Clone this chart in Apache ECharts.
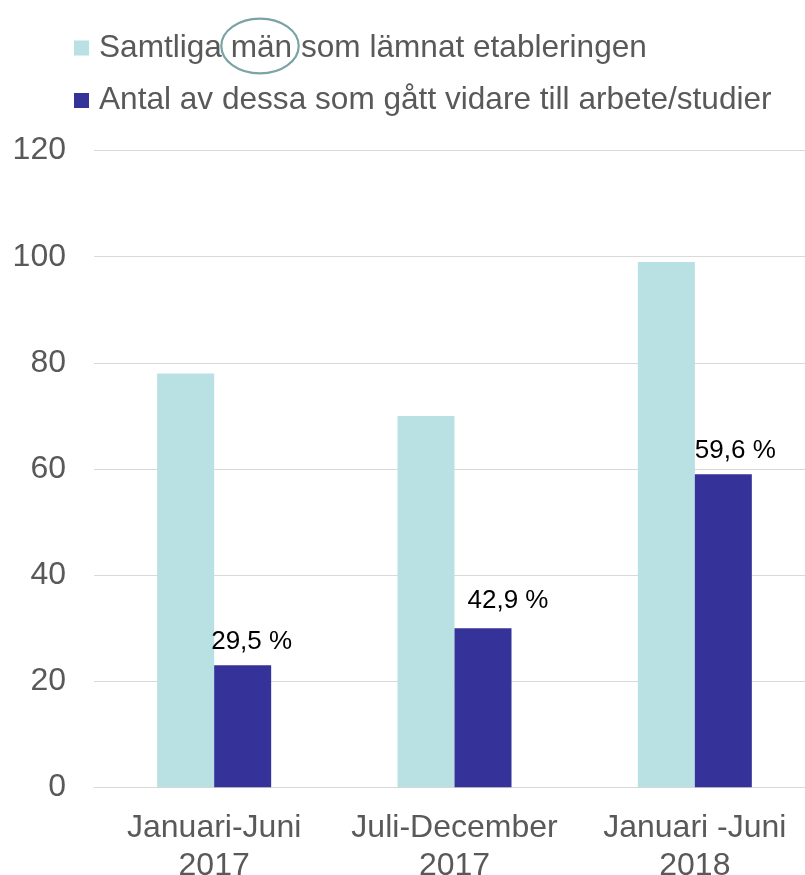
<!DOCTYPE html>
<html>
<head>
<meta charset="utf-8">
<script src="https://cdn.jsdelivr.net/npm/echarts@6/dist/echarts.min.js"></script>
<style>
  html, body { margin: 0; padding: 0; background: #fff; }
  #chart { width: 805px; height: 875px; }
</style>
</head>
<body>
<div id="chart"></div>
<script>
// data
const categories = ['Januari-Juni\n2017', 'Juli-December\n2017', 'Januari -Juni\n2018'];
const seriesNames = ['Samtliga män som lämnat etableringen', 'Antal av dessa som gått vidare till arbete/studier'];
const allMen = [78, 70, 99];
const movedOn = [23, 30, 59];
const shareLabels = ['29,5 %', '42,9 %', '59,6 %'];
const yTicks = [0, 20, 40, 60, 80, 100, 120];

// label nudges (the labels in the original were placed by hand)
const labelOffsets = [[9, 0], [25, -4], [12, 0]];

const font = '"Liberation Sans", Arial, sans-serif';
const grey = '#595959';

const chart = echarts.init(document.getElementById('chart'));
chart.setOption({
    animation: false,
    textStyle: { fontFamily: font },
    legend: {
        orient: 'vertical',
        left: 74,
        top: 28,
        padding: 0,
        itemWidth: 15,
        itemHeight: 15,
        itemGap: 12.5,
        icon: 'rect',
        textStyle: { fontSize: 31.6, color: grey, lineHeight: 40, padding: [0, 0, 0, 5] },
        data: seriesNames
    },
    grid: { left: 94, right: -10, top: 150.6, bottom: 87.7, outerBoundsMode: 'none', containLabel: false },
    xAxis: {
        type: 'category',
        data: categories,
        axisLine: { lineStyle: { color: '#D9D9D9', width: 1 } },
        axisTick: { show: false },
        axisLabel: { fontSize: 32, color: grey, lineHeight: 38, margin: 22, interval: 0 }
    },
    yAxis: {
        type: 'value',
        min: yTicks[0],
        max: yTicks[yTicks.length - 1],
        interval: yTicks[1] - yTicks[0],
        axisLine: { show: false },
        axisTick: { show: false },
        axisLabel: { fontSize: 32, color: grey, margin: 28 },
        splitLine: { lineStyle: { color: '#D9D9D9', width: 1 } }
    },
    series: [
        {
            name: seriesNames[0],
            type: 'bar',
            barWidth: 57,
            barGap: '0%',
            itemStyle: { color: '#B9E0E3' },
            data: allMen
        },
        {
            name: seriesNames[1],
            type: 'bar',
            barWidth: 57,
            barGap: '0%',
            itemStyle: { color: '#353399' },
            data: movedOn.map((v, i) => ({
                value: v,
                label: {
                    show: true,
                    position: 'top',
                    distance: 10,
                    offset: labelOffsets[i],
                    formatter: shareLabels[i],
                    fontSize: 26,
                    color: '#000'
                }
            }))
        }
    ],
    graphic: [{
        type: 'ellipse',
        shape: { cx: 260, cy: 46, rx: 38.7, ry: 27.3 },
        style: { fill: 'none', stroke: '#7BA3A6', lineWidth: 2.2 },
        z: 100
    }]
});
</script>
</body>
</html>
